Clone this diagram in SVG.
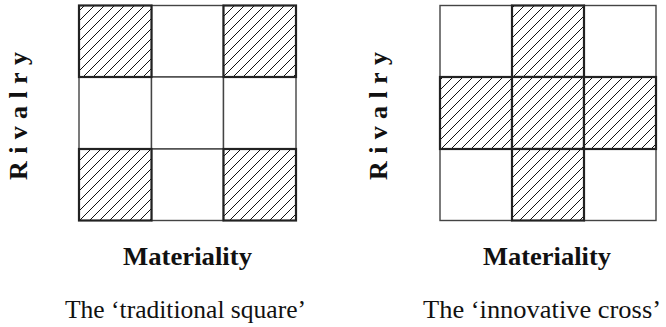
<svg xmlns="http://www.w3.org/2000/svg" width="666" height="327" viewBox="0 0 666 327">
<style>
.bg{fill:#fff}
.cell{fill:#fff;stroke:#444;stroke-width:1.4}
.hat{fill:url(#hatch);stroke:#222;stroke-width:2.2}
.axis{font-family:"Liberation Serif","Times New Roman",serif;font-weight:bold;font-size:26px;fill:#111}
.cap{font-family:"Liberation Serif","Times New Roman",serif;font-size:25px;fill:#111}
</style>
<defs>
<pattern id="hatch" patternUnits="userSpaceOnUse" width="10" height="10">
<rect width="10" height="10" fill="#fff"/>
<path d="M-1,1 L1,-1 M0,10 L10,0 M9,11 L11,9" stroke="#111" stroke-width="1"/>
</pattern>
</defs>
<rect class="bg" width="666" height="327"/>
<g id="square">
<rect class="cell" x="151.5" y="5.5" width="72" height="71.5"/>
<rect class="cell" x="79" y="77" width="72.5" height="72"/>
<rect class="cell" x="151.5" y="77" width="72" height="72"/>
<rect class="cell" x="223.5" y="77" width="72.5" height="72"/>
<rect class="cell" x="151.5" y="149" width="72" height="71.5"/>
<rect class="hat" x="79" y="5.5" width="72.5" height="71.5"/>
<rect class="hat" x="223.5" y="5.5" width="72.5" height="71.5"/>
<rect class="hat" x="79" y="149" width="72.5" height="71.5"/>
<rect class="hat" x="223.5" y="149" width="72.5" height="71.5"/>
</g>
<g id="cross">
<rect class="cell" x="440" y="5.5" width="72" height="71.5"/>
<rect class="cell" x="584" y="5.5" width="72" height="71.5"/>
<rect class="cell" x="440" y="149" width="72" height="71.5"/>
<rect class="cell" x="584" y="149" width="72" height="71.5"/>
<rect class="hat" x="512" y="5.5" width="72" height="71.5"/>
<rect class="hat" x="440" y="77" width="72" height="72"/>
<rect class="hat" x="512" y="77" width="72" height="72"/>
<rect class="hat" x="584" y="77" width="72" height="72"/>
<rect class="hat" x="512" y="149" width="72" height="71.5"/>
</g>
<g id="labels-square">
<text class="axis" transform="translate(27,180) rotate(-90)" x="0" y="0" textLength="128" lengthAdjust="spacing">Rivalry</text>
<text class="axis" x="123" y="265" textLength="129" lengthAdjust="spacingAndGlyphs">Materiality</text>
<text class="cap" x="65" y="318" textLength="241" lengthAdjust="spacingAndGlyphs">The ‘traditional square’</text>
</g>
<g id="labels-cross">
<text class="axis" transform="translate(387,180) rotate(-90)" x="0" y="0" textLength="128" lengthAdjust="spacing">Rivalry</text>
<text class="axis" x="483" y="265" textLength="128" lengthAdjust="spacingAndGlyphs">Materiality</text>
<text class="cap" x="423" y="318" textLength="238" lengthAdjust="spacingAndGlyphs">The ‘innovative cross’</text>
</g>
</svg>
